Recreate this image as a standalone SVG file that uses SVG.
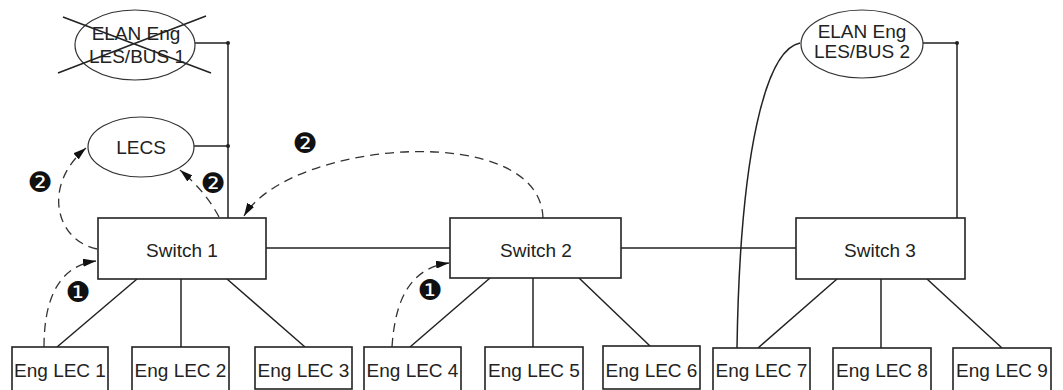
<svg xmlns="http://www.w3.org/2000/svg" width="1063" height="390" viewBox="0 0 1063 390">
<style>
.box{fill:#fff;stroke:#222;stroke-width:1.6}
.ell{fill:#fff;stroke:#333;stroke-width:1.2}
.ln{fill:none;stroke:#222;stroke-width:1.5}
.dash{fill:none;stroke:#333;stroke-width:1.3;stroke-dasharray:9 6}
.t{font-family:"Liberation Sans",Arial,sans-serif;font-size:19px;fill:#222;text-anchor:middle}
.num{font-family:"DejaVu Sans",sans-serif;font-size:28px;fill:#111;text-anchor:middle}
.dot{fill:#222}
</style>
<defs>
<marker id="arr" viewBox="0 0 13 8" refX="13" refY="4" markerWidth="13" markerHeight="8" markerUnits="userSpaceOnUse" orient="auto">
<path d="M0,0 L13,4 L0,8 Z" fill="#111"/>
</marker>
</defs>
<rect width="1063" height="390" fill="#fff"/>

<g id="connectors">
<path class="ln" d="M194 43 H228 V218"/>
<path class="ln" d="M194 146 H228"/>
<circle class="dot" cx="228" cy="43" r="2"/>
<circle class="dot" cx="228" cy="146" r="2"/>
<path class="ln" d="M923 43 H957 V218"/>
<circle class="dot" cx="957" cy="43" r="2"/>
<path class="ln" d="M266 248 H450"/>
<path class="ln" d="M621 248 H796"/>
<path class="ln" d="M800 43 C766 50 740 150 737 348"/>
<path class="ln" d="M137 279 L57 347"/>
<path class="ln" d="M181 279 V347"/>
<path class="ln" d="M227 279 L305 347"/>
<path class="ln" d="M490 278 L410 347"/>
<path class="ln" d="M533 278 V347"/>
<path class="ln" d="M579 278 L650 346"/>
<path class="ln" d="M837 279 L758 348"/>
<path class="ln" d="M881 279 V348"/>
<path class="ln" d="M927 279 L1002 348"/>
<path class="dash" d="M97 249 C55 240 42 185 86 148" marker-end="url(#arr)"/>
<path class="dash" d="M219 217 Q206 192 180 170" marker-end="url(#arr)"/>
<path class="dash" d="M44 347 C44 300 58 266 96 261" marker-end="url(#arr)"/>
<path class="dash" d="M392 347 C395 300 410 268 449 263" marker-end="url(#arr)"/>
<path class="dash" d="M543 218 C540 120 290 140 244 216" marker-end="url(#arr)"/>
</g>

<g id="step-labels">
<text class="num" x="40" y="192">❷</text>
<text class="num" x="213" y="193">❷</text>
<text class="num" x="305" y="153">❷</text>
<text class="num" x="78" y="302">❶</text>
<text class="num" x="430" y="300">❶</text>
</g>

<g id="elan1">
<ellipse class="ell" cx="135" cy="45" rx="60" ry="35"/>
<text class="t" x="136" y="40">ELAN Eng</text>
<text class="t" x="137" y="63">LES/BUS 1</text>
<path class="ln" d="M63 17 L211 73 M58 73 L206 16"/>
</g>

<g id="lecs">
<ellipse class="ell" cx="141" cy="147" rx="53" ry="30"/>
<text class="t" x="141" y="154">LECS</text>
</g>

<g id="elan2">
<ellipse class="ell" cx="862" cy="44" rx="61" ry="34"/>
<text class="t" x="862" y="38">ELAN Eng</text>
<text class="t" x="862" y="58">LES/BUS 2</text>
</g>

<g id="switch1">
<rect class="box" x="98" y="218" width="168" height="61"/>
<text class="t" x="182" y="257">Switch 1</text>
</g>
<g id="switch2">
<rect class="box" x="450" y="218" width="171" height="60"/>
<text class="t" x="536" y="257">Switch 2</text>
</g>
<g id="switch3">
<rect class="box" x="796" y="218" width="169" height="61"/>
<text class="t" x="880" y="257">Switch 3</text>
</g>

<g id="lec1"><rect class="box" x="12" y="347" width="96" height="48"/><text class="t" x="60" y="377">Eng LEC 1</text></g>
<g id="lec2"><rect class="box" x="132" y="347" width="97" height="48"/><text class="t" x="180.5" y="377">Eng LEC 2</text></g>
<g id="lec3"><rect class="box" x="255" y="347" width="97" height="42"/><text class="t" x="303.5" y="377">Eng LEC 3</text></g>
<g id="lec4"><rect class="box" x="364" y="347" width="97" height="48"/><text class="t" x="412.5" y="377">Eng LEC 4</text></g>
<g id="lec5"><rect class="box" x="485" y="347" width="98" height="48"/><text class="t" x="534" y="377">Eng LEC 5</text></g>
<g id="lec6"><rect class="box" x="603" y="346" width="97" height="43"/><text class="t" x="651.5" y="377">Eng LEC 6</text></g>
<g id="lec7"><rect class="box" x="713" y="348" width="97" height="48"/><text class="t" x="761.5" y="377">Eng LEC 7</text></g>
<g id="lec8"><rect class="box" x="833" y="348" width="98" height="48"/><text class="t" x="882" y="377">Eng LEC 8</text></g>
<g id="lec9"><rect class="box" x="953" y="348" width="98" height="48"/><text class="t" x="1002" y="377">Eng LEC 9</text></g>
</svg>
